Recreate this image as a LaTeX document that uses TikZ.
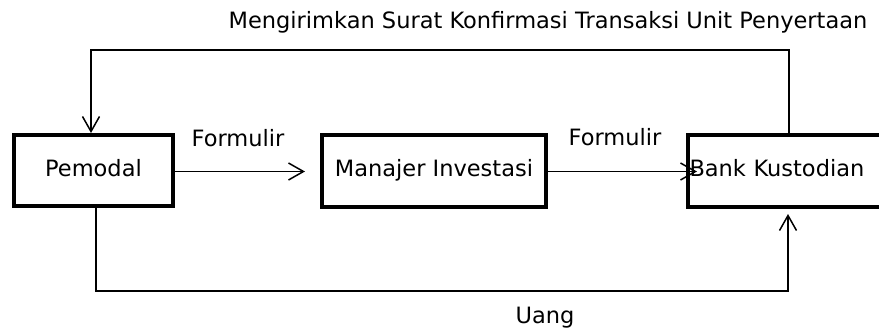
\documentclass[tikz,border=0pt]{standalone}
\usepackage{fontspec}
\setmainfont{DejaVu Sans}
\usetikzlibrary{arrows.meta}
\begin{document}
\begin{tikzpicture}[x=1pt,y=-1pt,
  every node/.style={font=\fontsize{22.5}{27}\selectfont},
  box/.style={draw, line width=4pt, inner sep=0pt, text height=16.5pt, text depth=5pt},
  conn/.style={line width=1.7pt},
  tip/.style={-{Straight Barb[length=15pt,width=17pt,line width=1.5pt]}},
  lbl/.style={anchor=base, inner sep=0pt}]
\useasboundingbox (0,0) rectangle (879,335);
\clip (0,0) rectangle (879,335);
\fill[white] (0,0) rectangle (879,335);
% boxes
\node[box, minimum width=159pt, minimum height=71pt] (pemodal) at (93.5,170.5) {Pemodal};
\node[box, minimum width=224pt, minimum height=72pt] (manajer) at (434,171) {Manajer Investasi};
\node[box, minimum width=232pt, minimum height=72pt, text width=229pt, align=left] (bank) at (804,171) {Bank Kustodian};
% coordinates
\coordinate (a1) at (305,171.5);
\coordinate (a2) at (697,171.5);
\coordinate (tr) at (789,50);
\coordinate (tl) at (91,50);
\coordinate (br) at (788,291);
\coordinate (bl) at (96,291);
\coordinate (btip) at (788,214);
% connectors
\draw[conn, tip] (pemodal.east |- a1) -- (a1);
\draw[conn, tip] (manajer.east |- a2) -- (a2);
\draw[conn, tip] (bank.north -| tr) -- (tr) -- (tl) -- (pemodal.north -| tl);
\draw[conn, tip] (pemodal.south -| bl) -- (bl) -- (br) -- (btip);
% labels
\node[lbl] (f1) at (238,146.7) {Formulir};
\node[lbl] (f2) at (615,145) {Formulir};
\node[lbl] (top) at (548,28) {Mengirimkan Surat Konfirmasi Transaksi Unit Penyertaan};
\node[lbl] (uang) at (545,323) {Uang};
\end{tikzpicture}
\end{document}
